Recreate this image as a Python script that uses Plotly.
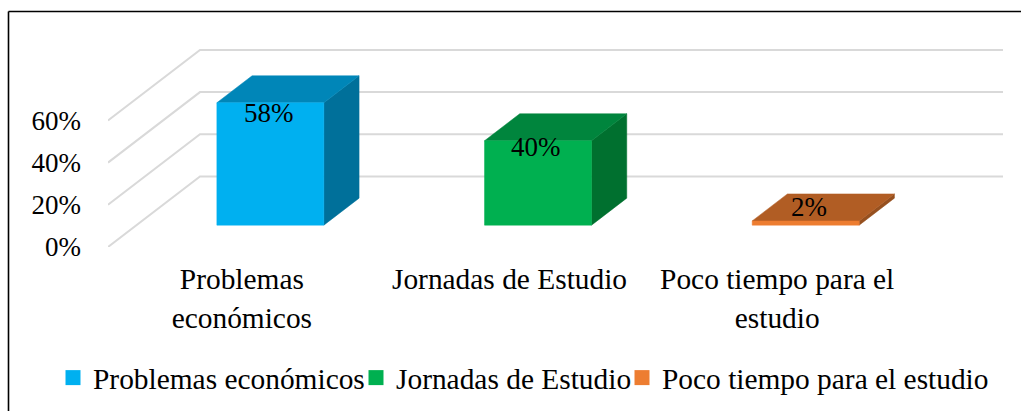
import plotly.graph_objects as go

categories = ["Problemas económicos", "Jornadas de Estudio", "Poco tiempo para el estudio"]
tick_labels = ["Problemas<br>económicos", "Jornadas de Estudio", "Poco tiempo para el<br>estudio"]
values = [58, 40, 2]
y_ticks = [0, 20, 40, 60]
label_shift = [-10, -6, 14]
label_xshift = [-1, -2, 3]
front_colors = ["#00B0F0", "#00B050", "#ED7D31"]
top_colors = ["#0086B8", "#00853D", "#B15D24"]
side_colors = ["#00709A", "#00702F", "#96501F"]
legend_left_px = [53, 356, 622]

W, H = 1021, 411
L, R, T, B = 108, 1003, 40, 247
PX_X = 267.7            # px per category
PX_Y = 2.11             # px per percent
WALL_X, WALL_Y = 92 / PX_X, 70.5 / PX_Y   # floor depth in axis units
BAR_W = 107 / PX_X
F0, F1 = 0.31, 0.31 + 0.383               # bar position along the depth
FONT = "Liberation Serif"
FS = 27
FS_CAT = 29.4

fig = go.Figure()


def poly(xs, ys, color):
    fig.add_trace(go.Scatter(x=xs + xs[:1], y=ys + ys[:1], mode="lines", fill="toself",
                             fillcolor=color, line=dict(color=color, width=0.5),
                             hoverinfo="skip", showlegend=False))


# floor/wall gridlines
for t in y_ticks:
    fig.add_trace(go.Scatter(
        x=[-0.5, -0.5 + WALL_X, 2.5 + WALL_X], y=[t, t + WALL_Y, t + WALL_Y],
        mode="lines", line=dict(color="#D9D9D9", width=2),
        hoverinfo="skip", showlegend=False))

# 3-D bars
for i, v in enumerate(values):
    x0 = i - BAR_W / 2 + F0 * WALL_X
    x1 = x0 + BAR_W
    y0 = F0 * WALL_Y
    y1 = y0 + v
    dx = (F1 - F0) * WALL_X
    dy = (F1 - F0) * WALL_Y
    poly([x1, x1 + dx, x1 + dx, x1], [y0, y0 + dy, y1 + dy, y1], side_colors[i])
    poly([x0, x1, x1 + dx, x0 + dx], [y1, y1, y1 + dy, y1 + dy], top_colors[i])
    poly([x0, x1, x1, x0], [y0, y0, y1, y1], front_colors[i])
    fig.add_annotation(x=(x0 + x1) / 2, y=y1, text=f"{v}%", showarrow=False,
                       xshift=label_xshift[i], yshift=label_shift[i],
                       yanchor="middle", xanchor="center",
                       font=dict(family=FONT, size=FS, color="#000000"))

plot_w, plot_h = R - L, B - T

# one legend per entry so each sits where the reference has it
legend_layout = {}
for i, (name, c) in enumerate(zip(categories, front_colors)):
    key = "legend" if i == 0 else f"legend{i + 1}"
    fig.add_trace(go.Scatter(x=[None], y=[None], mode="markers", name=name, legend=key,
                             marker=dict(symbol="square", size=15, color=c)))
    legend_layout[key] = dict(orientation="h", xref="paper", yref="paper",
                              x=(legend_left_px[i] - L) / plot_w, xanchor="left",
                              y=(B - 352) / plot_h, yanchor="top",
                              font=dict(family=FONT, size=FS_CAT, color="#000000"),
                              bgcolor="rgba(0,0,0,0)", itemclick=False, itemdoubleclick=False)

fig.add_shape(type="line", xref="paper", yref="paper",
              x0=(8.5 - L) / plot_w, x1=(W - L) / plot_w,
              y0=(B - 11.5) / plot_h, y1=(B - 11.5) / plot_h,
              line=dict(color="#000000", width=1.6))
fig.add_shape(type="line", xref="paper", yref="paper",
              x0=(8.5 - L) / plot_w, x1=(8.5 - L) / plot_w,
              y0=(B - 11.5) / plot_h, y1=(B - H) / plot_h,
              line=dict(color="#000000", width=1.6))

fig.update_layout(
    width=W, height=H,
    margin=dict(l=L, r=W - R, t=T, b=H - B, pad=0, autoexpand=False),
    paper_bgcolor="#FFFFFF", plot_bgcolor="rgba(0,0,0,0)",
    font=dict(family=FONT, size=FS, color="#000000"),
    xaxis=dict(range=[-0.5, 2.5 + WALL_X], tickmode="array", tickvals=list(range(len(tick_labels))),
               ticktext=tick_labels, showgrid=False, zeroline=False, showline=False,
               ticks="", ticklabelstandoff=12, tickangle=0, fixedrange=True,
               tickfont=dict(family=FONT, size=FS_CAT, color="#000000")),
    yaxis=dict(range=[0, (B - T) / PX_Y], tickmode="array", tickvals=y_ticks,
               ticktext=[f"{t}%" for t in y_ticks], showgrid=False, zeroline=False,
               showline=False, ticks="", ticklabelstandoff=26, fixedrange=True),
    showlegend=True,
    **legend_layout,
)
fig.write_html("out.html", config=dict(displayModeBar=False, responsive=False),
               post_script="document.body.style.margin='0';")
